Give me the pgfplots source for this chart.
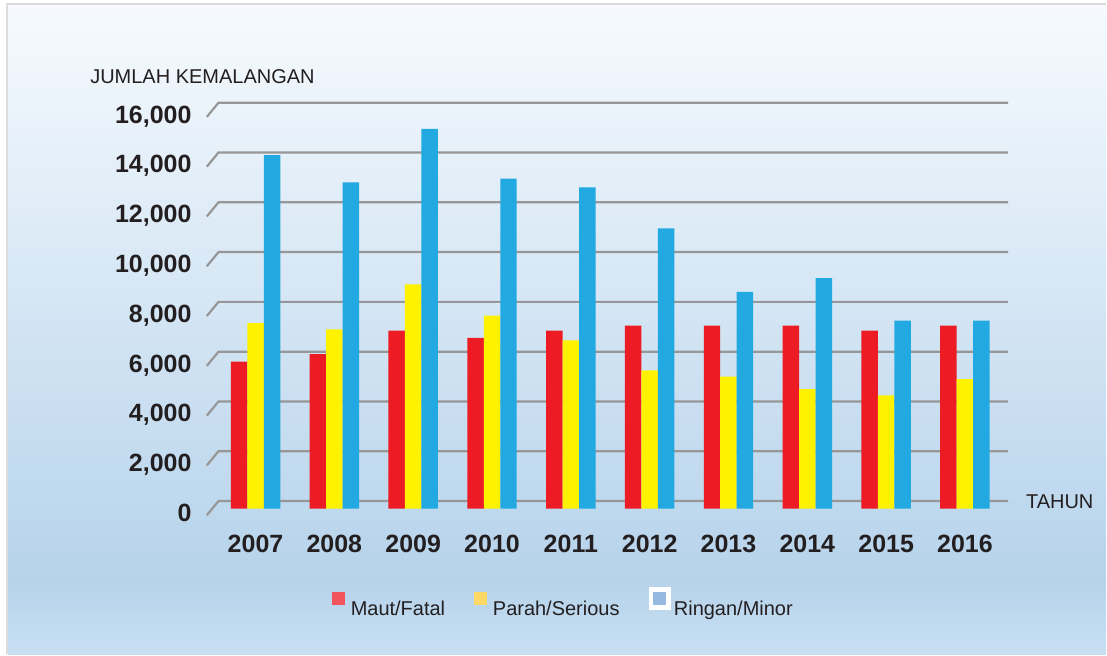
\documentclass[border=0pt]{standalone}
\usepackage{pgfplots}
\pgfplotsset{compat=1.18}
\usepackage{fontspec}
\setmainfont{Liberation Sans}
\definecolor{barred}{HTML}{ED1C24}
\definecolor{baryel}{HTML}{FFF200}
\definecolor{barblue}{HTML}{23A9E1}
\definecolor{legred}{HTML}{F2555B}
\definecolor{legyel}{HTML}{FFD966}
\definecolor{legblue}{HTML}{96B9E1}
\definecolor{gridc}{HTML}{979797}
\definecolor{bgtop}{HTML}{F6FAFE}
\definecolor{bgmid}{HTML}{B6D3EB}
\definecolor{bgbot}{HTML}{C8DFF2}
\definecolor{bord}{HTML}{DCDCDC}
\definecolor{txt}{HTML}{231F20}
\begin{document}
\begin{tikzpicture}
\fill[white] (0,0) rectangle (553.5pt,327.5pt);
\shade[top color=bgtop, bottom color=bgmid] (4pt,37.4pt) rectangle (553.5pt,325pt);
\shade[top color=bgmid, bottom color=bgbot] (4pt,0pt) rectangle (553.5pt,37.6pt);
\draw[bord, line width=1pt] (3.75pt,0) -- (3.75pt,325.25pt) -- (553.5pt,325.25pt);
\node[anchor=base west, inner sep=0pt, font=\fontsize{10}{12}\selectfont, text=txt] at (45pt,285.5pt) {JUMLAH KEMALANGAN};
\node[anchor=base west, inner sep=0pt, font=\fontsize{10}{12}\selectfont, text=txt] at (513.3pt,72.85pt) {TAHUN};
\begin{axis}[
  at={(103.5pt,73pt)}, anchor=south west,
  scale only axis, width=401pt, height=199.35pt,
  xmin=-0.618, xmax=9.547, ymin=0, ymax=16000,
  clip=false,
  axis line style={draw=none},
  tick style={draw=none},
  xtick={0,...,9},
  xticklabels={2007,2008,2009,2010,2011,2012,2013,2014,2015,2016},
  ytick={0,2000,4000,6000,8000,10000,12000,14000,16000},
  scaled y ticks=false,
  /pgf/number format/.cd, fixed, 1000 sep={,}, assume math mode=true, /pgfplots/.cd,
  xticklabel style={anchor=base, inner sep=0pt, yshift=-22.2pt, font=\bfseries\fontsize{12.5}{14}\selectfont, text=txt},
  yticklabel style={anchor=base east, inner sep=0pt, xshift=-7.5pt, yshift=-6.5pt, font=\bfseries\fontsize{12.5}{14}\selectfont, text=txt},
  legend columns=3,
  legend style={at={(0.4456,-0.2408)}, anchor=center, draw=none, fill=none,
    font=\fontsize{10}{12}\selectfont, text=txt,
    /tikz/every even column/.append style={column sep=13pt},
    nodes={inner sep=1.5pt}},
]
\addlegendimage{legend image code/.code={\fill[legred] (0pt,2.6pt) rectangle (6pt,8.6pt); \path (7.5pt,0pt);}}
\addlegendentry{Maut/Fatal}
\addlegendimage{legend image code/.code={\fill[legyel] (0pt,2.6pt) rectangle (6pt,8.6pt); \path (7.5pt,0pt);}}
\addlegendentry{Parah/Serious}
\addlegendimage{legend image code/.code={\fill[white] (-2.4pt,0.2pt) rectangle (8.4pt,11pt); \fill[legblue] (0pt,2.6pt) rectangle (6pt,8.6pt);}}
\addlegendentry{Ringan/Minor}
\pgfplotsinvokeforeach{0,2000,4000,6000,8000,10000,12000,14000,16000}{
  \draw[gridc, line width=1.1pt] ([yshift=-3.35pt]axis cs:-0.618,#1) -- ([xshift=5.85pt,yshift=3.75pt]axis cs:-0.618,#1) -- ([yshift=3.75pt]axis cs:9.547,#1);
}
\addplot[ybar, bar width=8.25pt, bar shift=-8.25pt, fill=barred, draw=none, forget plot] coordinates {
(0,5900) (1,6200) (2,7150) (3,6850) (4,7150) (5,7350) (6,7350) (7,7350) (8,7150) (9,7350)};
\addplot[ybar, bar width=8.25pt, bar shift=0pt, fill=baryel, draw=none, forget plot] coordinates {
(0,7450) (1,7200) (2,9000) (3,7750) (4,6750) (5,5550) (6,5300) (7,4800) (8,4550) (9,5200)};
\addplot[ybar, bar width=8.25pt, bar shift=8.25pt, fill=barblue, draw=none, forget plot] coordinates {
(0,14200) (1,13100) (2,15250) (3,13250) (4,12900) (5,11250) (6,8700) (7,9250) (8,7550) (9,7550)};
\end{axis}
\end{tikzpicture}
\end{document}
